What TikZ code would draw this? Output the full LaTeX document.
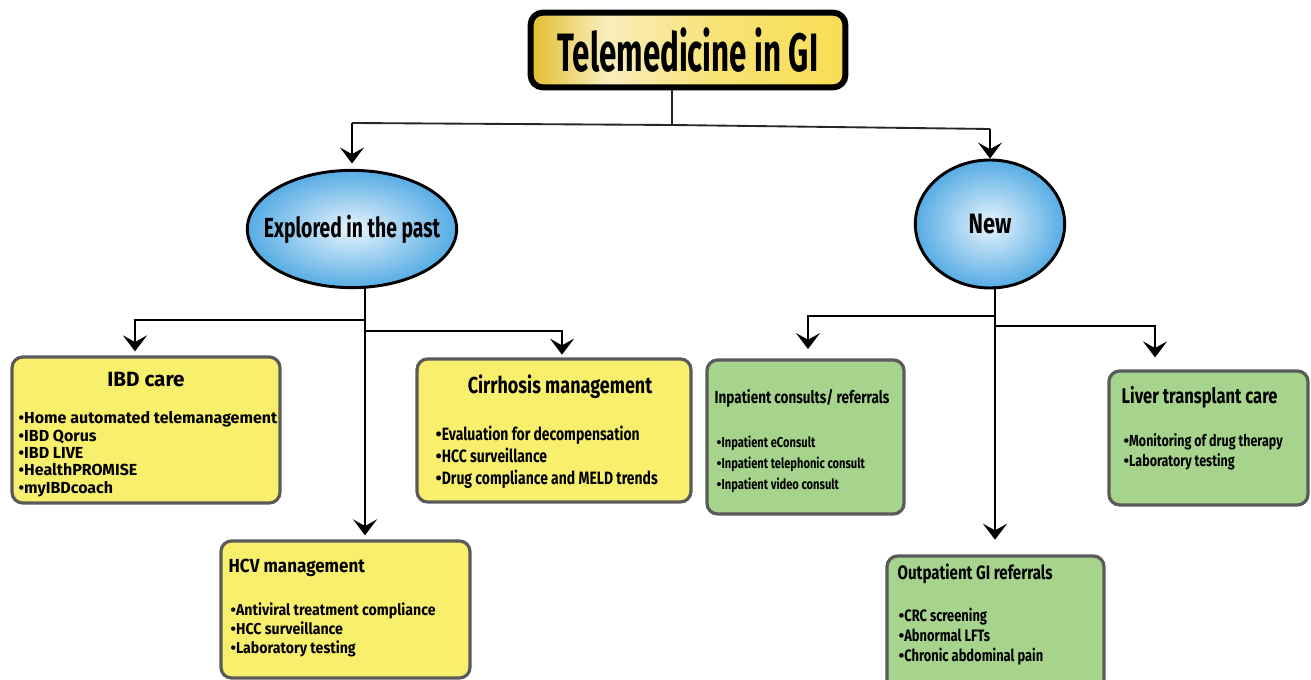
\documentclass[tikz,border=0pt]{standalone}
\usepackage{fontspec}
\usepackage{xcolor}
\usetikzlibrary{shapes,arrows.meta,positioning,calc}
\setmainfont{Fira Sans}
\newfontfamily\titlefont{Fira Sans}[FakeStretch=0.58]
\newfontfamily\condfont{Fira Sans}[FakeStretch=0.7]
\newfontfamily\boxfont{Fira Sans}[FakeStretch=0.78]
\newfontfamily\widefont{Fira Sans}[FakeStretch=0.9]
\newcommand{\bul}{{\rmfamily\bfseries•}}
\definecolor{goldL}{RGB}{228,190,46}
\definecolor{goldM}{RGB}{249,237,190}
\definecolor{goldR}{RGB}{248,222,85}
\definecolor{bubbleIn}{RGB}{232,244,252}
\definecolor{bubbleOut}{RGB}{86,172,228}
\definecolor{careyellow}{RGB}{248,240,108}
\definecolor{newgreen}{RGB}{166,212,140}
\definecolor{boxgray}{RGB}{90,90,90}
\pgfdeclarehorizontalshading{goldshade}{100bp}{color(0bp)=(goldL); color(25bp)=(goldL); color(37bp)=(goldM); color(55bp)=(goldR!70!goldM); color(75bp)=(goldR); color(100bp)=(goldR)}
\tikzset{
    % node styles
    titlebox/.style={
        rectangle, draw=black, line width=4.5pt, rounded corners=9pt,
        shading=goldshade, minimum width=236pt, minimum height=56pt,
        inner sep=0pt, font=\titlefont\bfseries\fontsize{40.5}{44}\selectfont
    },
    bubble/.style={
        ellipse, draw=black, line width=2.2pt,
        inner color=bubbleIn, outer color=bubbleOut
    },
    bubbletext/.style={
        inner sep=0pt, font=\condfont\bfseries\fontsize{20.7}{24}\selectfont
    },
    carebox/.style={
        rectangle, draw=boxgray, line width=2.4pt, rounded corners=8pt,
        fill=careyellow, inner sep=0pt
    },
    newbox/.style={
        rectangle, draw=boxgray, line width=2.4pt, rounded corners=8pt,
        fill=newgreen, inner sep=0pt
    },
    head/.style={
        inner sep=0pt, anchor=base west,
        font=\boxfont\bfseries\fontsize{14}{16}\selectfont
    },
    items/.style={
        inner sep=0pt, anchor=north west, align=left,
        font=\boxfont\bfseries\fontsize{12}{15}\selectfont
    },
    arrow/.style={
        -{Stealth[length=12pt,width=18pt,inset=5pt]}, line width=2.2pt, black
    },
    thinline/.style={
        line width=1.4pt, black!85
    }
}
\begin{document}
\begin{tikzpicture}[x=0.75pt, y=-0.75pt]
\useasboundingbox (0,0) rectangle (1311,680);

% Title and the two branches
\node[titlebox] (title) at (688,50) {Telemedicine in GI};
\node[bubble, minimum width=157pt, minimum height=88pt,
      label={[bubbletext]center:Explored in the past}] (past) at (352,229) {};
\node[bubble, minimum width=112pt, minimum height=96pt,
      label={[bubbletext, font=\boxfont\bfseries\fontsize{21}{24}\selectfont]center:New}] (new) at (990,224) {};

% Boxes
\node[carebox, minimum width=201pt, minimum height=109.5pt] (ibd) at (146,430) {};
\node[carebox, minimum width=205.5pt, minimum height=107.3pt] (cirr) at (554,430.5) {};
\node[carebox, minimum width=186.8pt, minimum height=102.8pt] (hcv) at (345.5,609.5) {};
\node[newbox, minimum width=147.8pt, minimum height=115.5pt] (inpt) at (805.5,437) {};
\node[newbox, minimum width=149.3pt, minimum height=100.5pt] (liver) at (1208.5,438) {};
\node[newbox, minimum width=162.8pt, minimum height=100.5pt] (outpt) at (995.5,623) {};

% Box texts
\node[head, anchor=base, font=\bfseries\fontsize{15.5}{17}\selectfont] (ibdhead) at ($(ibd.north)+(0,31)$) {IBD care};
\node[items, font=\bfseries\fontsize{12}{13}\selectfont] (ibdlist) at ($(ibd.north west)+(8,56)$)
    {•Home automated telemanagement\\•IBD Qorus\\•IBD LIVE\\•HealthPROMISE\\•myIBDcoach};
\node[head, anchor=base, font=\boxfont\bfseries\fontsize{17.3}{19}\selectfont] (cirrhead) at ($(cirr.north)+(6,36)$) {Cirrhosis management};
\node[items, font=\boxfont\bfseries\fontsize{13.4}{16.5}\selectfont] (cirrlist) at ($(cirr.north west)+(20,68)$)
    {\bul Evaluation for decompensation\\\bul HCC surveillance\\\bul Drug compliance and MELD trends};
\node[head, font=\widefont\bfseries\fontsize{14.2}{16}\selectfont] (hcvhead) at ($(hcv.north west)+(9,33)$) {HCV management};
\node[items, font=\widefont\bfseries\fontsize{11.8}{14.3}\selectfont] (hcvlist) at ($(hcv.north west)+(11,63)$)
    {\bul Antiviral treatment compliance\\\bul HCC surveillance\\\bul Laboratory testing};
\node[head, font=\boxfont\bfseries\fontsize{13}{15}\selectfont] (inpthead) at ($(inpt.north west)+(9,45)$) {Inpatient consults/ referrals};
\node[items, font=\boxfont\bfseries\fontsize{10.7}{16}\selectfont] (inptlist) at ($(inpt.north west)+(11,77)$)
    {\bul Inpatient eConsult\\\bul Inpatient telephonic consult\\\bul Inpatient video consult};
\node[head, font=\boxfont\bfseries\fontsize{15.9}{17}\selectfont] (liverhead) at ($(liver.north west)+(14,34)$) {Liver transplant care};
\node[items] (liverlist) at ($(liver.north west)+(16,64)$)
    {\bul Monitoring of drug therapy\\\bul Laboratory testing};
\node[head, font=\boxfont\bfseries\fontsize{14.5}{16}\selectfont] (outpthead) at ($(outpt.north west)+(12,25)$) {Outpatient GI referrals};
\node[items, font=\boxfont\bfseries\fontsize{12.4}{15}\selectfont] (outptlist) at ($(outpt.north west)+(13,53)$)
    {\bul CRC screening\\\bul Abnormal LFTs\\\bul Chronic abdominal pain};

% Connectors from the title
\coordinate (tsplit) at (672,125);
\coordinate (tleft) at (352,123);
\coordinate (tright) at (990,129);
\draw[thinline] (title.south -| tsplit) -- (tsplit);
\draw[thinline] (tleft) -- (tsplit) -- (tright);
\draw[arrow, line width=1.4pt, shorten >=4pt] (tleft) -- (past.north);
\draw[arrow, line width=1.4pt] (tright) -- (new.north);

% Explored in the past
\coordinate (pstem) at (365,287);
\coordinate (ibdtap) at (365,320);
\coordinate (ibdturn) at (135,320);
\coordinate (cirrtap) at (365,331);
\coordinate (cirrturn) at (562,331);
\draw[arrow, shorten >=3pt] (pstem) -- (pstem |- hcv.north);
\draw[arrow, shorten >=3pt] (ibdtap) -- (ibdturn) -- (ibdturn |- ibd.north);
\draw[arrow, shorten >=2pt] (cirrtap) -- (cirrturn) -- (cirrturn |- cirr.north);

% New
\coordinate (nstem) at (995,286);
\coordinate (inpttap) at (995,316);
\coordinate (inptturn) at (808,316);
\coordinate (livertap) at (995,326);
\coordinate (liverturn) at (1155,326);
\draw[arrow, shorten >=11pt] (nstem) -- (nstem |- outpt.north);
\draw[arrow, shorten >=7pt] (inpttap) -- (inptturn) -- (inptturn |- inpt.north);
\draw[arrow, shorten >=9pt] (livertap) -- (liverturn) -- (liverturn |- liver.north);

\end{tikzpicture}
\end{document}
